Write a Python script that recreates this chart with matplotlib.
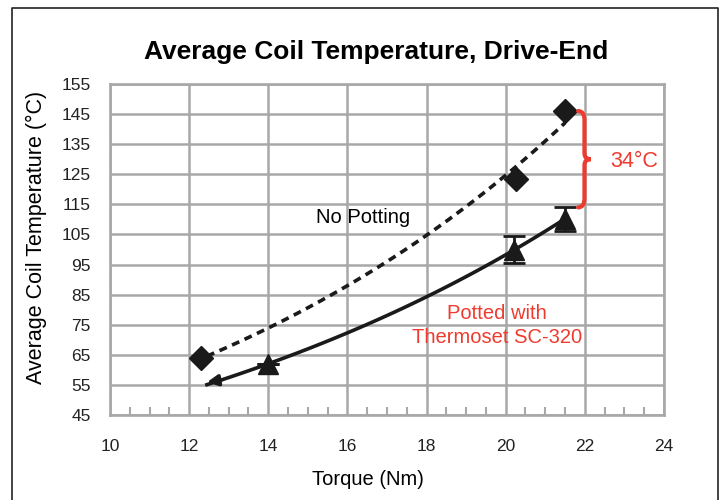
import numpy as np
import matplotlib.pyplot as plt
from matplotlib.path import Path
from matplotlib.patches import PathPatch
from matplotlib.lines import Line2D
from matplotlib.ticker import MultipleLocator

plt.rcParams['font.family'] = ['Liberation Sans', 'DejaVu Sans']

# data
torque_no_pot = [12.3, 20.25, 21.5]
temp_no_pot = [64, 123.5, 146]

torque_pot = [14.0, 20.2, 21.5]
temp_pot = [62, 100, 110]
err_pot = [0, 4.5, 4]

x_ticks = [10, 12, 14, 16, 18, 20, 22, 24]
y_ticks = [45, 55, 65, 75, 85, 95, 105, 115, 125, 135, 145, 155]

grid_col = '#a8a8a8'
red = '#ee3b2f'
txt_col = '#222222'


def exp_trend(x, y, x0, x1):
    b, a = np.polyfit(x, np.log(y), 1)
    xs = np.linspace(x0, x1, 100)
    return xs, np.exp(a + b * xs)


fig = plt.figure(figsize=(7.23, 5), dpi=100)
ax = fig.add_axes([0.1521, 0.17, 0.7663, 0.662])

# trendlines
xs, ys = exp_trend(torque_no_pot, temp_no_pot, 12.45, 21.5)
ax.plot(xs, ys, color='#1a1a1a', lw=2.6, ls=(0, (2.2, 1.6)), zorder=3)
xs, ys = exp_trend(torque_pot, temp_pot, 12.45, 21.5)
ax.plot(xs, ys, color='#1a1a1a', lw=2.6, zorder=3)
ax.annotate('', xy=(xs[0], ys[0] + 0.8), xytext=(xs[4], ys[4]),
            arrowprops=dict(arrowstyle='-|>', color='#1a1a1a', lw=2.6,
                            mutation_scale=16, shrinkA=0, shrinkB=0), zorder=3)

# markers
ax.plot(torque_no_pot, temp_no_pot, ls='none', marker='D', ms=12,
        color='#1a1a1a', zorder=4)
ax.errorbar(torque_pot, temp_pot, yerr=err_pot, ls='none', marker='^', ms=14,
            color='#1a1a1a', ecolor='#1a1a1a', elinewidth=2, capsize=8,
            capthick=2, zorder=4)

# brace showing the temperature gap
bx0, bx1, bx2 = 21.83, 21.99, 22.15
top, mid, bot = 146, 130, 114
verts = [(bx0, top), (bx1, top), (bx1, top - 3),
         (bx1, mid + 2), (bx1, mid), (bx2, mid),
         (bx1, mid), (bx1, mid - 2),
         (bx1, bot + 3), (bx1, bot), (bx0, bot)]
codes = [Path.MOVETO, Path.CURVE3, Path.CURVE3,
         Path.LINETO, Path.CURVE3, Path.CURVE3,
         Path.CURVE3, Path.CURVE3,
         Path.LINETO, Path.CURVE3, Path.CURVE3]
ax.add_patch(PathPatch(Path(verts, codes), fill=False, edgecolor=red,
                       lw=3, capstyle='round', zorder=5))

ax.text(22.63, 129.3, '34°C', color=red, fontsize=15.5, ha='left', va='center')
ax.text(16.39, 110.5, 'No Potting', color='black', fontsize=14.5,
        ha='center', va='center')
ax.text(19.77, 74.8, 'Potted with\nThermoset SC-320', color=red, fontsize=14.5,
        ha='center', va='center', linespacing=1.3)

# axes styling
ax.set_xlim(10, 24)
ax.set_ylim(45, 155)
ax.set_xticks(x_ticks)
ax.set_yticks(y_ticks)
ax.xaxis.set_minor_locator(MultipleLocator(0.5))
ax.grid(True, which='major', color=grid_col, lw=1.8)
ax.set_axisbelow(True)
for s in ax.spines.values():
    s.set_color(grid_col)
    s.set_linewidth(1.9)
ax.tick_params(which='major', length=0, labelsize=12.5, labelcolor=txt_col)
ax.tick_params(axis='x', which='major', pad=17)
ax.tick_params(axis='y', which='major', pad=14)
ax.tick_params(axis='x', which='minor', direction='in', length=6,
               width=1.5, color=grid_col)
ax.tick_params(axis='y', which='minor', length=0)

ax.set_xlabel('Torque (Nm)', fontsize=14.5)
ax.xaxis.set_label_coords(0.466, -0.165)
ax.set_ylabel('Average Coil Temperature (°C)', fontsize=15.5)
ax.yaxis.set_label_coords(-0.113, 0.535)

fig.text(0.52, 0.895, 'Average Coil Temperature, Drive-End', fontsize=19,
         fontweight='bold', ha='center', va='center')

# outer frame (open at the bottom)
fig.add_artist(Line2D([0.017, 0.017, 0.993, 0.993], [0.0, 0.984, 0.984, 0.0],
                      transform=fig.transFigure, color='#222222', lw=1.2))

fig.savefig('out.png', dpi=100)
